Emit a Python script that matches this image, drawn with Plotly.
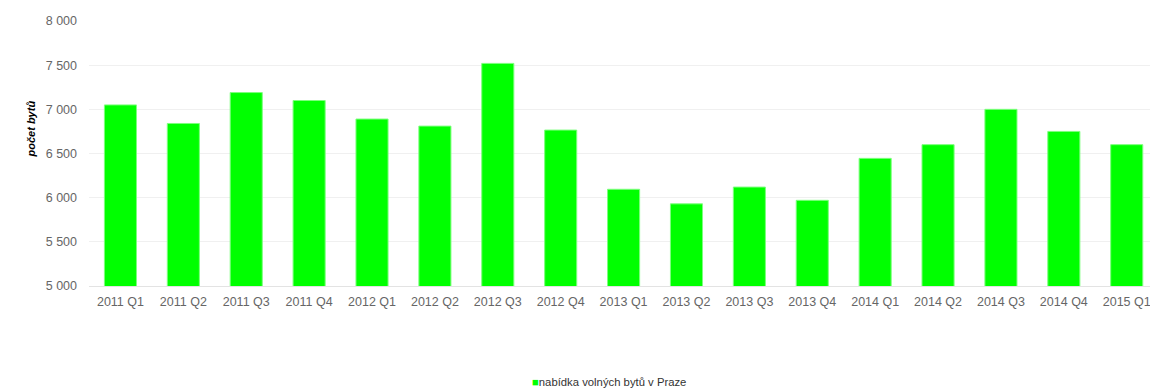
import plotly.graph_objects as go

# Quarterly supply of vacant flats in Prague
quarters = [
    "2011 Q1", "2011 Q2", "2011 Q3", "2011 Q4",
    "2012 Q1", "2012 Q2", "2012 Q3", "2012 Q4",
    "2013 Q1", "2013 Q2", "2013 Q3", "2013 Q4",
    "2014 Q1", "2014 Q2", "2014 Q3", "2014 Q4",
    "2015 Q1",
]
flats = [
    7050, 6840, 7190, 7100,
    6890, 6810, 7520, 6765,
    6095, 5930, 6120, 5970,
    6445, 6600, 7000, 6750,
    6600,
]
series_name = "nabídka volných bytů v Praze"
y_title = "počet bytů"
y_ticks = [5000, 5500, 6000, 6500, 7000, 7500, 8000]

GREEN = "#00ff00"
FONT = "Liberation Sans, Arial, sans-serif"

fig = go.Figure(
    go.Bar(
        x=quarters,
        y=flats,
        name=series_name,
        marker=dict(color=GREEN, line=dict(color="#7dff7d", width=1)),
        width=0.51,
        showlegend=False,
    )
)

fig.update_layout(
    width=1150,
    height=389,
    margin=dict(l=89, r=0, t=21, b=103),
    paper_bgcolor="white",
    plot_bgcolor="white",
    separators=", ",
    font=dict(family=FONT, size=12.5, color="#666666"),
    showlegend=False,
    bargap=0.49,
)

fig.update_xaxes(
    type="category",
    range=[-0.5, 16.37],
    showgrid=False,
    showline=True,
    linecolor="#e3e3e3",
    linewidth=1,
    ticks="",
    tickfont=dict(family=FONT, size=12.5, color="#666666"),
    ticklabelstandoff=4,
)

fig.update_yaxes(
    range=[5000, 8000],
    tickvals=y_ticks,
    tickformat=",d",
    showgrid=True,
    gridcolor="#f0f0f0",
    gridwidth=1,
    zeroline=False,
    showline=False,
    ticks="",
    tickfont=dict(family=FONT, size=12.5, color="#666666"),
    ticklabelstandoff=11,
)

# Y-axis title
fig.add_annotation(
    text="<b><i>" + y_title + "</i></b>",
    xref="paper",
    yref="paper",
    x=-0.055,
    y=0.593,
    xanchor="center",
    yanchor="middle",
    textangle=-90,
    showarrow=False,
    font=dict(family=FONT, size=11, color="#000000"),
)

# Series key below the plot: small green square followed by the series name
fig.add_annotation(
    text="<span style='color:" + GREEN + "'>■</span>" + series_name,
    xref="paper",
    yref="paper",
    x=0.49,
    y=-0.364,
    xanchor="center",
    yanchor="middle",
    showarrow=False,
    font=dict(family=FONT, size=11.3, color="#333333"),
)

fig.write_html("out.html")
